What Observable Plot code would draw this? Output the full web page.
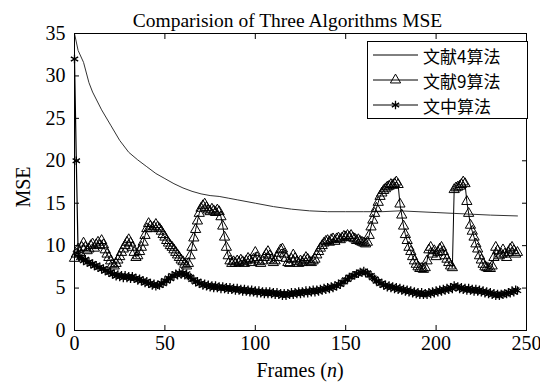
<!DOCTYPE html>
<html><head><meta charset="utf-8">
<script src="https://cdn.jsdelivr.net/npm/d3@7"></script>
<script src="https://cdn.jsdelivr.net/npm/@observablehq/plot@0.6"></script>
<style>
body{margin:0;background:#fff;}
#wrap{position:relative;width:540px;height:382px;overflow:hidden;font-family:"Liberation Serif","Times New Roman",serif;color:#000;}
.lbl{position:absolute;white-space:nowrap;line-height:1;}
#legend{position:absolute;left:367px;top:41px;width:161px;height:78px;box-sizing:border-box;border:1px solid #000;background:#fff;}
.row{position:absolute;left:0;height:20px;display:flex;align-items:center;font-family:"Noto Sans CJK SC",sans-serif;font-size:17px;line-height:1;}
.row svg{margin-left:4px;margin-right:4px;}
</style></head><body>
<div id="wrap"></div>
<script>
// Chart text
const titleText = "Comparision of Three Algorithms MSE";
const yLabel = "MSE";
const seriesNames = ["文献4算法", "文献9算法", "文中算法"];
const xTicks = [0, 50, 100, 150, 200, 250];
const yTicks = [0, 5, 10, 15, 20, 25, 30, 35];

// Series 1 (文献4算法): smooth line, values read at sampled frames
const ref4X = [0, 2, 5, 8, 10, 15, 20, 25, 30, 35, 40, 45, 50, 55, 60, 65, 70, 75, 80, 85, 90, 100, 110, 120, 130, 140, 150, 160, 170, 180, 190, 200, 210, 220, 230, 245];
const ref4Y = [35.0, 33.0, 31.6, 29.2, 28.1, 26.0, 24.2, 22.4, 21.0, 20.1, 19.3, 18.5, 17.9, 17.3, 16.8, 16.4, 16.1, 15.9, 15.8, 15.6, 15.4, 15.0, 14.6, 14.3, 14.1, 14.0, 14.0, 14.0, 14.0, 14.1, 14.0, 13.9, 13.8, 13.7, 13.6, 13.5];

// Series 2 (文献9算法): one value per frame, frames 0..245
const ref9Y = [
8.5,9.0,9.6,9.2,9.8,10.3,9.8,9.4,9.6,10.0,
10.2,9.7,10.1,10.4,10.0,10.6,10.1,9.5,9.0,8.6,
8.2,7.8,7.6,7.9,8.3,8.7,9.2,9.6,10.0,10.4,
10.7,10.3,9.8,9.2,8.6,8.8,9.3,9.8,10.4,11.2,
12.0,12.6,12.3,12.0,12.2,12.5,12.2,12.0,11.7,11.3,
11.0,10.6,10.3,10.0,9.8,9.5,9.2,8.9,8.6,8.3,
8.1,7.8,7.6,7.9,8.8,9.8,10.9,11.9,12.9,13.8,
14.4,14.7,14.9,14.5,14.2,14.0,14.3,14.1,13.9,14.2,
14.0,13.4,12.3,11.0,9.8,8.8,8.2,7.9,8.1,7.9,
8.2,8.0,8.3,8.1,7.9,8.2,8.5,8.3,8.0,8.4,
9.2,8.6,8.1,7.9,8.2,8.6,9.0,9.3,8.8,8.3,
8.0,8.2,8.6,9.1,9.5,9.6,9.0,8.5,8.0,7.9,
8.4,8.9,8.5,8.1,7.9,8.2,8.0,8.3,8.6,8.4,
8.1,8.0,8.2,8.4,8.9,9.3,9.7,10.0,10.3,10.5,
10.6,10.4,10.7,10.8,10.5,10.8,10.9,10.7,10.9,11.1,
11.0,11.2,11.0,11.2,10.9,10.8,10.6,10.7,10.5,10.4,
10.3,10.2,10.4,11.2,12.2,13.0,13.8,14.4,15.1,15.8,
16.2,16.5,16.7,16.9,17.0,17.2,17.1,17.3,17.5,17.2,
14.9,13.6,12.3,11.3,10.6,9.8,9.3,8.7,8.2,7.8,
7.5,7.3,7.3,7.2,7.4,8.2,9.5,9.8,9.0,9.4,
8.7,9.2,9.6,9.8,9.3,8.8,8.4,8.0,7.6,7.4,
16.6,16.8,16.9,17.0,17.2,17.5,17.3,15.2,13.8,12.4,
11.7,11.0,10.2,9.6,8.8,8.3,7.8,7.5,7.4,7.3,
7.3,7.6,8.6,9.8,9.4,8.8,9.0,9.5,9.0,8.6,
9.2,9.6,9.8,9.4,9.0,9.2
];

// Series 3 (文中算法): one value per frame, frames 0..245
const oursY = [
32.0,20.0,9.0,8.6,8.5,8.2,8.4,8.0,8.1,7.8,
7.9,7.6,7.7,7.4,7.5,7.2,7.3,7.0,7.1,6.8,
6.9,6.6,6.7,6.4,6.6,6.3,6.5,6.2,6.5,6.2,
6.4,6.1,6.4,6.1,6.2,5.9,6.1,5.8,5.9,5.6,
5.8,5.5,5.6,5.3,5.5,5.2,5.4,5.3,5.6,5.5,
5.9,5.8,6.2,6.1,6.5,6.4,6.7,6.5,6.8,6.6,
6.8,6.5,6.7,6.4,6.3,6.0,6.0,5.7,5.8,5.5,
5.6,5.3,5.5,5.2,5.4,5.1,5.3,5.0,5.3,5.0,
5.2,4.9,5.2,4.9,5.1,4.8,5.1,4.8,5.0,4.7,
5.0,4.7,4.9,4.6,4.9,4.6,4.8,4.5,4.8,4.5,
4.7,4.4,4.7,4.4,4.6,4.3,4.6,4.3,4.6,4.3,
4.5,4.2,4.5,4.2,4.4,4.1,4.4,4.1,4.4,4.2,
4.5,4.2,4.5,4.3,4.6,4.3,4.6,4.4,4.7,4.4,
4.7,4.5,4.8,4.5,4.8,4.6,4.9,4.7,5.0,4.8,
5.1,4.9,5.2,5.0,5.3,5.2,5.5,5.4,5.7,5.7,
6.0,6.0,6.3,6.3,6.5,6.5,6.7,6.7,6.9,6.8,
7.0,6.8,6.8,6.5,6.5,6.2,6.1,5.8,5.8,5.5,
5.6,5.3,5.4,5.1,5.3,5.0,5.2,4.9,5.1,4.8,
5.0,4.7,4.9,4.6,4.8,4.5,4.7,4.4,4.6,4.3,
4.5,4.2,4.5,4.2,4.4,4.2,4.5,4.3,4.6,4.4,
4.7,4.5,4.8,4.6,4.9,4.7,5.0,4.8,5.1,4.9,
5.3,5.1,5.2,4.9,5.1,4.8,5.0,4.7,5.0,4.7,
4.9,4.6,4.9,4.6,4.8,4.5,4.7,4.4,4.6,4.3,
4.5,4.2,4.4,4.1,4.3,4.1,4.3,4.2,4.4,4.3,
4.5,4.4,4.7,4.5,4.8,4.7
];

const ref4 = ref4X.map((x, i) => ({x, y: ref4Y[i]}));
const ref9 = ref9Y.map((y, i) => ({x: i, y}));
const ours = oursY.map((y, i) => ({x: i, y}));

const chart = Plot.plot({
  width: 540, height: 382,
  marginLeft: 74, marginRight: 14, marginTop: 33, marginBottom: 52,
  x: {domain: [0, 250]},
  y: {domain: [0, 35]},
  style: {fontFamily: '"Liberation Serif","Times New Roman",serif', fontSize: "20px", color: "#000", background: "#fff", overflow: "visible"},
  marks: [
    Plot.line(ref4, {x: "x", y: "y", stroke: "#333", strokeWidth: 1}),
    Plot.line(ref9, {x: "x", y: "y", stroke: "#000", strokeWidth: 1}),
    Plot.dot(ref9, {x: "x", y: "y", symbol: "triangle", r: 3.8, stroke: "#000", fill: "none", strokeWidth: 1}),
    Plot.line(ours, {x: "x", y: "y", stroke: "#000", strokeWidth: 1.2}),
    Plot.dot(ours, {x: "x", y: "y", symbol: "asterisk", r: 4, stroke: "#000", strokeWidth: 1.3}),
    Plot.frame({stroke: "#000", strokeWidth: 1}),
    Plot.axisX({anchor: "bottom", ticks: xTicks, tickSize: -5, tickPadding: 10, label: null, fontSize: 20}),
    Plot.axisX({anchor: "top", ticks: xTicks, tickSize: -5, tickFormat: () => "", label: null}),
    Plot.axisY({anchor: "left", ticks: yTicks, tickSize: -5, tickPadding: 14, label: null, fontSize: 20}),
    Plot.axisY({anchor: "right", ticks: yTicks, tickSize: -5, tickFormat: () => "", label: null})
  ]
});

const wrap = document.getElementById("wrap");
wrap.appendChild(chart);

function addLbl(html, css) {
  const d = document.createElement("div");
  d.className = "lbl";
  d.innerHTML = html;
  Object.assign(d.style, css);
  wrap.appendChild(d);
  return d;
}
addLbl(titleText, {left: "0px", width: "575px", textAlign: "center", top: "11px", fontSize: "19.5px"});
addLbl(yLabel, {left: "23px", top: "187px", fontSize: "20px", transform: "translate(-50%,-50%) rotate(-90deg)"});
addLbl("Frames (<i>n</i>)", {left: "0px", width: "600px", textAlign: "center", top: "360px", fontSize: "20px"});

// Legend
const legend = document.createElement("div");
legend.id = "legend";
const rowCenters = [13, 38, 63];
const markerKinds = ["none", "triangle", "asterisk"];
seriesNames.forEach((name, i) => {
  const row = document.createElement("div");
  row.className = "row";
  row.style.top = (rowCenters[i] - 10) + "px";
  let marker = "";
  if (markerKinds[i] === "triangle") {
    marker = `<path d="${d3.symbol(d3.symbolTriangle, Math.PI * 3.8 * 3.8)()}" transform="translate(23.5,10)" fill="none" stroke="#000"/>`;
  } else if (markerKinds[i] === "asterisk") {
    marker = `<path d="${d3.symbol(d3.symbolAsterisk, Math.PI * 4 * 4)()}" transform="translate(23.5,10)" fill="none" stroke="#000" stroke-width="1.3"/>`;
  }
  row.innerHTML = `<svg width="47" height="20"><line x1="1" x2="46" y1="10" y2="10" stroke="#000" stroke-width="1"/>${marker}</svg><span>${name}</span>`;
  legend.appendChild(row);
});
wrap.appendChild(legend);
</script>
</body></html>
